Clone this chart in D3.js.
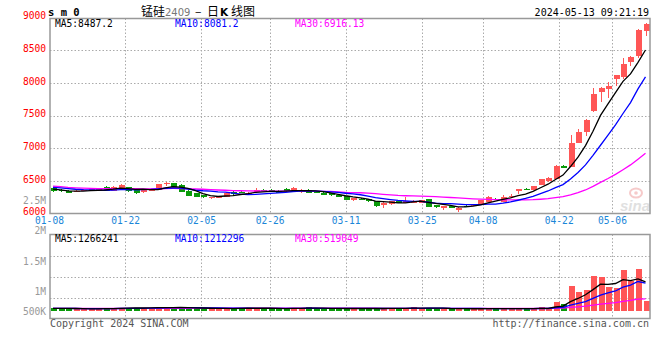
<!DOCTYPE html>
<html>
<head>
<meta charset="utf-8">
<script src="https://cdn.jsdelivr.net/npm/d3@7/dist/d3.min.js"></script>
<style>
  body { margin: 0; background: #fff; }
  svg { display: block; font-family: "DejaVu Sans Mono", monospace; }
</style>
</head>
<body>
<svg id="chart" width="660" height="360"></svg>
<script>
// daily candles 2024-01-08 .. 2024-05-13 (80 trading days)
var open  = [6390,6360,6350,6345,6350,6355,6365,6412,6350,6395,6405,6370,6330,6360,6365,6445,6465,6440,6350,6310,
             6285,6245,6255,6260,6335,6330,6290,6325,6362,6365,6340,6375,6340,6330,6365,6330,6320,6315,6285,6270,
             6205,6222,6220,6188,6128,6143,6190,6183,6185,6168,6215,6125,6090,6110,6056,6120,6118,6133,6183,6228,
             6183,6265,6337,6380,6362,6439,6490,6530,6725,6719,7086,7254,7571,7866,7903,8056,8087,8323,8414,8795];
var high  = [6400,6370,6355,6360,6375,6385,6385,6420,6420,6445,6410,6380,6370,6380,6450,6485,6470,6445,6355,6315,
             6290,6260,6275,6325,6345,6345,6330,6390,6375,6370,6355,6385,6405,6370,6370,6340,6325,6320,6290,6275,
             6240,6235,6225,6192,6170,6195,6195,6255,6200,6212,6220,6130,6120,6118,6095,6128,6150,6210,6265,6235,
             6286,6300,6378,6390,6428,6532,6552,6745,6740,7204,7291,7444,7918,7930,8017,8125,8377,8405,8818,8910];
var low   = [6330,6325,6310,6335,6340,6345,6355,6345,6345,6390,6335,6305,6320,6355,6360,6420,6400,6330,6265,6250,
             6240,6225,6245,6250,6290,6310,6285,6320,6345,6325,6320,6335,6335,6320,6310,6315,6285,6275,6250,6200,
             6195,6205,6180,6105,6090,6135,6160,6170,6175,6160,6095,6085,6050,6095,6026,6105,6112,6128,6178,6215,
             6178,6235,6300,6368,6355,6432,6484,6525,6700,6712,7080,7193,7560,7709,7763,7958,8056,8254,8377,8719];
var close = [6340,6345,6320,6350,6360,6370,6370,6350,6412,6435,6340,6315,6362,6368,6444,6470,6405,6335,6275,6260,
             6245,6255,6265,6315,6295,6325,6320,6360,6355,6330,6335,6340,6390,6360,6315,6325,6290,6280,6258,6205,
             6232,6216,6188,6110,6162,6190,6165,6190,6190,6205,6105,6092,6112,6104,6090,6115,6143,6205,6260,6222,
             6245,6272,6373,6375,6423,6526,6546,6730,6715,7077,7245,7429,7831,7923,7958,8117,8281,8400,8812,8902];
var volume = [140,100,100,100,85,85,85,150,100,150,150,150,100,150,190,150,150,150,100,150,
              100,100,100,100,100,150,150,100,100,100,100,100,150,100,190,100,100,100,100,140,
              100,100,100,140,100,140,100,100,180,120,115,115,105,85,105,85,105,105,105,105,
              85,105,105,105,105,165,105,390,295,1090,840,920,1500,1480,1050,1020,1760,1300,1840,420];
// closes / volumes before 01-08, needed by the moving averages
var histClose  = [6640,6620,6560,6520,6480,6450,6420,6400,6380,6370,6360,6380,6390,6370,6380,6400,6390,6370,6360,6360,
                  6410,6440,6450,6430,6410,6400,6390,6370,6360];
var histVolume = [110,110,120,110,100,110,120,110,100,110,120,110,100,110,120,110,100,110,120,110,
                  100,110,120,110,100,110,120,110,100];
var tickIndex  = [0, 10, 20, 29, 39, 49, 57, 67, 74];
var tickLabels = ["01-08","01-22","02-05","02-26","03-11","03-25","04-08","04-22","05-06"];
var priceTicks = [6000, 6500, 7000, 7500, 8000, 8500, 9000];
var volTicks   = [500000, 1000000, 1500000, 2000000, 2500000];
var volTickText = ["500K", "1M", "1.5M", "2M", "2.5M"];

var RED = "#ff5656", GREEN = "#0a9a0a", GRID = "#aaa", BORDER = "#999";

function movingAvg(hist, vals, n) {
  var all = hist.concat(vals), off = hist.length;
  return vals.map(function (d, i) {
    return d3.mean(all.slice(off + i - n + 1, off + i + 1));
  });
}

var svg = d3.select("#chart");
var n = close.length;
var idx = d3.range(n);

var x  = d3.scaleLinear().domain([0, n - 1]).range([53, 645.5]);   // candle centres
var xg = d3.scaleLinear().domain([0, n - 1]).range([49, 650]);     // grid / date labels
var y  = d3.scaleLinear().domain([6000, 9000]).range([213.5, 17.5]);
var yv = d3.scaleLinear().domain([0, 3.3e6]).range([311, 235]);
var yvLabel = d3.scaleLinear().domain([0, 2.5e6]).range([351, 200]);

var P = {l: 50, r: 650, t: 18.5, b: 213.5};
var V = {l: 50, r: 650, t: 234.5, b: 318.5};

svg.append("defs").append("clipPath").attr("id", "clipP")
  .append("rect").attr("x", P.l).attr("y", P.t).attr("width", P.r - P.l).attr("height", P.b - P.t);
svg.select("defs").append("clipPath").attr("id", "clipV")
  .append("rect").attr("x", V.l).attr("y", V.t).attr("width", V.r - V.l).attr("height", V.b - V.t);

// ---- grid lines
var grid = svg.append("g").attr("stroke", GRID).attr("stroke-dasharray", "1.5,2").attr("stroke-width", 1);
grid.selectAll(".gp").data(priceTicks.slice(1, -1)).enter().append("line")
  .attr("x1", P.l).attr("x2", P.r).attr("y1", function (d) { return Math.round(y(d)) + 0.5; })
  .attr("y2", function (d) { return Math.round(y(d)) + 0.5; });
grid.selectAll(".gx").data(tickIndex.slice(1)).enter().append("line")
  .attr("x1", function (d) { return Math.round(xg(d)) + 0.5; })
  .attr("x2", function (d) { return Math.round(xg(d)) + 0.5; })
  .attr("y1", P.t).attr("y2", P.b);
grid.selectAll(".gxv").data(tickIndex.slice(1)).enter().append("line")
  .attr("x1", function (d) { return Math.round(xg(d)) + 0.5; })
  .attr("x2", function (d) { return Math.round(xg(d)) + 0.5; })
  .attr("y1", V.t).attr("y2", V.b);
grid.selectAll(".gv").data([1, 2, 3]).enter().append("line")
  .attr("x1", V.l).attr("x2", V.r)
  .attr("y1", function (d) { return Math.round(V.t + d * (V.b - V.t) / 4) + 0.5; })
  .attr("y2", function (d) { return Math.round(V.t + d * (V.b - V.t) / 4) + 0.5; });

// ---- watermark
var wm = svg.append("g").attr("opacity", 0.55);
wm.append("ellipse").attr("cx", 636).attr("cy", 193).attr("rx", 6).attr("ry", 4.5)
  .attr("fill", "none").attr("stroke", "#f0a0a0").attr("stroke-width", 2);
wm.append("circle").attr("cx", 636).attr("cy", 193).attr("r", 1.8).attr("fill", "#f0a0a0");
wm.append("text").attr("x", 620).attr("y", 211).attr("font-family", "Liberation Sans, sans-serif")
  .attr("font-size", 15).attr("font-weight", "bold").attr("font-style", "italic")
  .attr("fill", "#c8c8c8").text("sina");

// ---- candles
var up = function (i) { return close[i] >= open[i]; };
var cg = svg.append("g").attr("clip-path", "url(#clipP)").attr("shape-rendering", "crispEdges");
cg.selectAll(".wick").data(idx).enter().append("line")
  .attr("x1", function (i) { return Math.round(x(i)) + 0.5; })
  .attr("x2", function (i) { return Math.round(x(i)) + 0.5; })
  .attr("y1", function (i) { return y(high[i]); })
  .attr("y2", function (i) { return y(low[i]); })
  .attr("stroke", function (i) { return up(i) ? RED : GREEN; });
cg.selectAll(".body").data(idx).enter().append("rect")
  .attr("x", function (i) { return Math.round(x(i)) - 2.5; })
  .attr("width", 6)
  .attr("y", function (i) { return y(Math.max(open[i], close[i])); })
  .attr("height", function (i) { return Math.max(1.5, Math.abs(y(open[i]) - y(close[i]))); })
  .attr("fill", function (i) { return up(i) ? RED : GREEN; });

// ---- price moving averages
var ma5 = movingAvg(histClose, close, 5),
    ma10 = movingAvg(histClose, close, 10),
    ma30 = movingAvg(histClose, close, 30);
var lineP = function (arr) {
  return d3.line().x(function (i) { return x(i); }).y(function (i) { return y(arr[i]); })(idx);
};
var mg = svg.append("g").attr("clip-path", "url(#clipP)").attr("fill", "none").attr("stroke-width", 1.3);
mg.append("path").attr("d", lineP(ma30)).attr("stroke", "#ff00ff");
mg.append("path").attr("d", lineP(ma10)).attr("stroke", "#0000ff");
mg.append("path").attr("d", lineP(ma5)).attr("stroke", "#000");

// ---- volume bars
var vol = volume.map(function (v) { return v * 1000; });
var histVol = histVolume.map(function (v) { return v * 1000; });
var vg = svg.append("g").attr("clip-path", "url(#clipV)").attr("shape-rendering", "crispEdges");
vg.selectAll("rect").data(idx).enter().append("rect")
  .attr("x", function (i) { return Math.round(x(i)) - 2.5; })
  .attr("width", 6)
  .attr("y", function (i) { return yv(vol[i]); })
  .attr("height", function (i) { return yv(0) - yv(vol[i]); })
  .attr("fill", function (i) { return up(i) ? RED : GREEN; });
var vma5 = movingAvg(histVol, vol, 5),
    vma10 = movingAvg(histVol, vol, 10),
    vma30 = movingAvg(histVol, vol, 30);
var lineV = function (arr) {
  return d3.line().x(function (i) { return x(i); }).y(function (i) { return yv(arr[i]); })(idx);
};
var vmg = svg.append("g").attr("clip-path", "url(#clipV)").attr("fill", "none").attr("stroke-width", 1.3);
vmg.append("path").attr("d", lineV(vma30)).attr("stroke", "#ff00ff");
vmg.append("path").attr("d", lineV(vma10)).attr("stroke", "#0000ff");
vmg.append("path").attr("d", lineV(vma5)).attr("stroke", "#000");

// ---- panel borders
[P, V].forEach(function (b) {
  svg.append("rect").attr("x", b.l).attr("y", b.t).attr("width", b.r - b.l).attr("height", b.b - b.t)
    .attr("fill", "none").attr("stroke", BORDER).attr("stroke-width", 1.5);
});

// ---- axes
var ay = svg.append("g").attr("transform", "translate(" + P.l + ",-1.8)")
  .call(d3.axisLeft(y).tickValues(priceTicks).tickSize(0).tickPadding(4).tickFormat(d3.format("d")));
ay.select(".domain").remove();
ay.selectAll("text").attr("fill", "#f00").attr("font-size", 9.6).attr("font-family", "DejaVu Sans Mono");

var ax = svg.append("g").attr("transform", "translate(0," + P.b + ")")
  .call(d3.axisBottom(xg).tickValues(tickIndex).tickSize(0).tickPadding(3.5)
    .tickFormat(function (d) { return tickLabels[tickIndex.indexOf(d)]; }));
ax.select(".domain").remove();
ax.selectAll("text").attr("fill", "#1a86d8").attr("font-size", 9.6).attr("font-family", "DejaVu Sans Mono");

svg.append("g").selectAll("text").data(volTicks).enter().append("text")
  .attr("x", 46).attr("y", function (d) { return Math.min(yvLabel(d), 311) + 4.2; })
  .attr("text-anchor", "end").attr("font-size", 9.6).attr("fill", "#999")
  .text(function (d, i) { return volTickText[i]; });

// ---- legends
var legP = [["MA5:8487.2", "#000", 55], ["MA10:8081.2", "#0000ff", 175], ["MA30:6916.13", "#ff00ff", 295]];
var legV = [["MA5:1266241", "#000", 55], ["MA10:1212296", "#0000ff", 175], ["MA30:519049", "#ff00ff", 295]];
legP.forEach(function (d) {
  svg.append("text").attr("x", d[2]).attr("y", 27).attr("font-size", 9.6).attr("fill", d[1]).text(d[0]);
});
legV.forEach(function (d) {
  svg.append("text").attr("x", d[2]).attr("y", 241.5).attr("font-size", 9.6).attr("fill", d[1]).text(d[0]);
});

// ---- header / footer
svg.append("text").attr("x", 48).attr("y", 15.5).attr("font-size", 10.5).attr("font-weight", "bold")
  .text("s m 0");
var title = svg.append("text").attr("y", 15.5).attr("font-size", 12)
  .attr("font-family", "Noto Sans CJK SC, sans-serif");
title.append("tspan").attr("x", 141).text("锰硅");
title.append("tspan").attr("x", 165).attr("fill", "#777").attr("font-family", "DejaVu Sans").attr("font-size", 10).text("2409");
title.append("tspan").attr("x", 195).text("–");
title.append("tspan").attr("x", 207).text("日");
title.append("tspan").attr("x", 220).attr("font-weight", "bold").attr("font-family", "DejaVu Sans").attr("font-size", 10.5).text("K");
title.append("tspan").attr("x", 231).text("线图");

svg.append("text").attr("x", 649).attr("y", 15.5).attr("text-anchor", "end").attr("font-size", 10)
  .text("2024-05-13 09:21:19");
svg.append("text").attr("x", 50).attr("y", 326.5).attr("font-size", 10).attr("fill", "#555")
  .text("Copyright 2024 SINA.COM");
svg.append("text").attr("x", 649).attr("y", 326.5).attr("text-anchor", "end").attr("font-size", 10).attr("fill", "#555")
  .text("http://finance.sina.com.cn");
</script>
</body>
</html>
